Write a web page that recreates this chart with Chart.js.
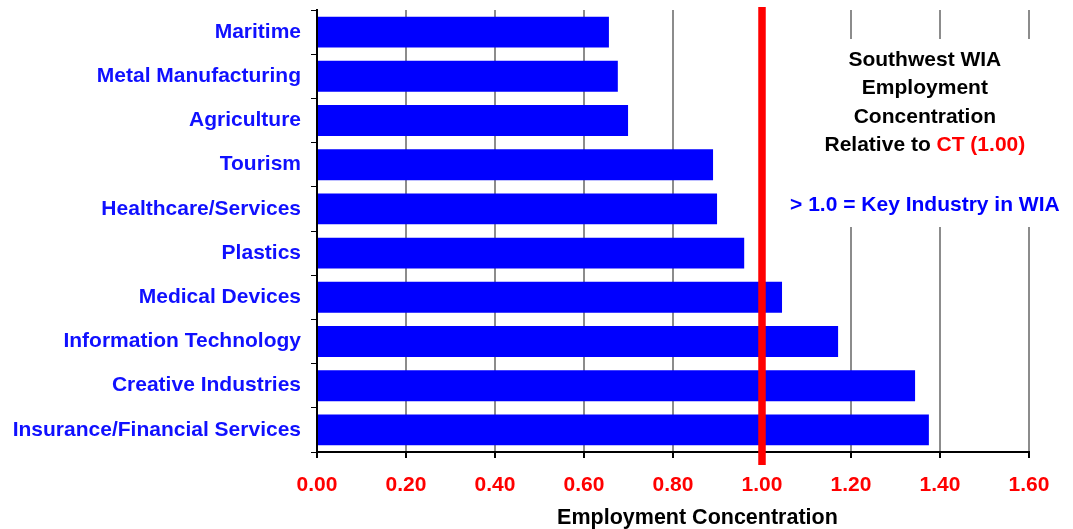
<!DOCTYPE html>
<html>
<head>
<meta charset="utf-8">
<script src="https://cdn.jsdelivr.net/npm/chart.js@4/dist/chart.umd.min.js"></script>
<style>
  body { margin: 0; background: #fff; }
  #wrap { width: 1073px; height: 529px; }
</style>
</head>
<body>
<div id="wrap"><canvas id="EmpConc" width="1073" height="529"></canvas></div>
<script>
// Industries, top to bottom as in the chart
const industries = [
    'Maritime',
    'Metal Manufacturing',
    'Agriculture',
    'Tourism',
    'Healthcare/Services',
    'Plastics',
    'Medical Devices',
    'Information Technology',
    'Creative Industries',
    'Insurance/Financial Services'
];
const concentration = [0.656, 0.676, 0.699, 0.890, 0.899, 0.960, 1.045, 1.171, 1.344, 1.375];
const xTicks = [0, 0.2, 0.4, 0.6, 0.8, 1.0, 1.2, 1.4, 1.6];
const ctReference = 1.0;
const xTitle = 'Employment Concentration';
const noteLines = ['Southwest WIA', 'Employment', 'Concentration'];
const noteLast = ['Relative to ', 'CT (1.00)'];
const keyNote = '> 1.0 = Key Industry in WIA';

const FONT = '"Liberation Sans", Arial, Helvetica, sans-serif';

// Ligne rouge verticale à 1.00 (référence CT)
const refLine = {
    id: 'refLine',
    afterDatasetsDraw(chart) {
        const { ctx, chartArea, scales } = chart;
        const x = scales.x.getPixelForValue(ctReference);
        ctx.save();
        ctx.strokeStyle = '#ff0000';
        ctx.lineWidth = 7.5;
        ctx.beginPath();
        ctx.moveTo(x, chartArea.top - 3);
        ctx.lineTo(x, chartArea.bottom + 13);
        ctx.stroke();
        ctx.restore();
    }
};

// Encadré de texte à droite + titre de l'axe X (décalé comme dans l'original)
const noteBox = {
    id: 'noteBox',
    afterDraw(chart) {
        const { ctx, scales, chartArea } = chart;
        const cx = scales.x.getPixelForValue(1.366);
        const top = chartArea.top;
        ctx.save();
        ctx.fillStyle = '#ffffff';
        ctx.fillRect(cx - 141, top + 29, 282, 188);
        ctx.font = 'bold 21px ' + FONT;
        ctx.textBaseline = 'middle';
        ctx.textAlign = 'center';
        ctx.fillStyle = '#000000';
        noteLines.forEach((t, i) => ctx.fillText(t, cx, top + 50 + i * 28.4));
        // dernière ligne en deux couleurs
        const y4 = top + 50 + 3 * 28.4;
        const w1 = ctx.measureText(noteLast[0]).width;
        const w2 = ctx.measureText(noteLast[1]).width;
        const x0 = cx - (w1 + w2) / 2;
        ctx.textAlign = 'left';
        ctx.fillText(noteLast[0], x0, y4);
        ctx.fillStyle = '#ff0000';
        ctx.fillText(noteLast[1], x0 + w1, y4);
        ctx.textAlign = 'center';
        ctx.fillStyle = '#0000ff';
        ctx.fillText(keyNote, cx, top + 195);

        // titre de l'axe
        ctx.fillStyle = '#000000';
        ctx.font = 'bold 21.5px ' + FONT;
        ctx.fillText(xTitle, scales.x.getPixelForValue(0.855), chartArea.bottom + 66);
        ctx.restore();
    }
};

new Chart(document.getElementById('EmpConc').getContext('2d'), {
    type: 'bar',
    data: {
        labels: industries,
        datasets: [{
            label: xTitle,
            data: concentration,
            backgroundColor: '#0000ff',
            borderWidth: 0,
            barPercentage: 0.7,
            categoryPercentage: 1.0
        }]
    },
    options: {
        indexAxis: 'y',
        responsive: false,
        animation: false,
        layout: { padding: { top: 10, right: 44, bottom: 0, left: 0 } },
        plugins: {
            legend: { display: false },
            tooltip: { enabled: false }
        },
        scales: {
            x: {
                min: 0,
                max: 1.6,
                afterBuildTicks: (scale) => { scale.ticks = xTicks.map(v => ({ value: v })); },
                afterFit: (scale) => { scale.height = 77; },
                grid: { color: '#8c8c8c', lineWidth: 2, tickColor: '#000', tickLength: 6 },
                border: { display: true, color: '#000', width: 2 },
                ticks: {
                    color: '#ff0000',
                    padding: 15,
                    font: { family: FONT, size: 21, weight: 'bold' },
                    callback: (v) => Number(v).toFixed(2)
                }
            },
            y: {
                afterFit: (scale) => {
                    scale.width = 317;
                    scale.paddingTop = 0;
                    scale.paddingBottom = 0;
                },
                grid: { drawOnChartArea: false, color: '#000', tickLength: 6, offset: true },
                border: { display: true, color: '#000', width: 2 },
                ticks: {
                    color: '#1010ff',
                    padding: 10,
                    font: { family: FONT, size: 21, weight: 'bold' }
                }
            }
        }
    },
    plugins: [refLine, noteBox]
});
</script>
</body>
</html>
